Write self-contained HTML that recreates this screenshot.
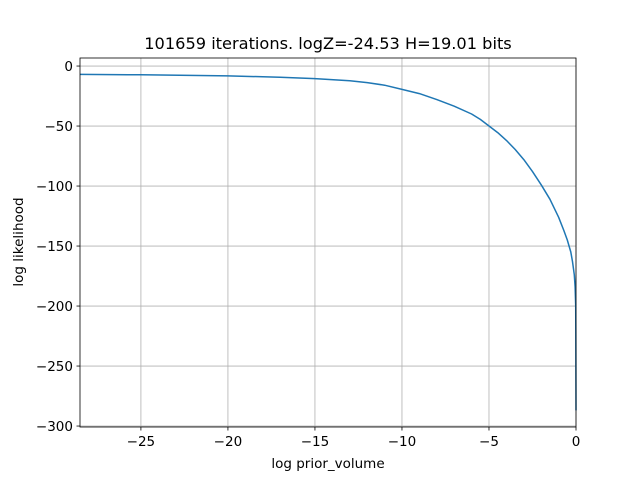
<!DOCTYPE html>
<html><head><meta charset="utf-8"><style>
body{margin:0;background:#fff;}
svg text{font-family:"DejaVu Sans","Liberation Sans",sans-serif;fill:#000;}
</style></head><body>
<svg id="chart" width="640" height="480" xmlns="http://www.w3.org/2000/svg">
<rect width="640" height="480" fill="#fff"/>
<g id="grid"></g>
<g id="ticks"></g>
<path id="curve" fill="none" stroke="#1f77b4" stroke-width="1.5" stroke-linejoin="round"/>
<rect x="80" y="58" width="496" height="369" fill="none" stroke="#000" stroke-width="0.8"/>
<text x="328" y="49" font-size="16.2" text-anchor="middle">101659 iterations. logZ=-24.53 H=19.01 bits</text>
<text x="328" y="468" font-size="13.5" text-anchor="middle">log prior_volume</text>
<text transform="translate(23,242) rotate(-90)" font-size="13.5" text-anchor="middle">log likelihood</text>
</svg>
<script>
const xs=[-28.5,-25,-20,-17,-15,-13,-12,-11,-10,-9,-8,-7,-6,-5.5,-5,-4.5,-4,-3.5,-3,-2.5,-2,-1.5,-1,-0.7,-0.5,-0.3,-0.2,-0.1,-0.05,-0.02,-0.01,0];
const ys=[-7,-7.3,-8.2,-9.3,-10.5,-12.3,-13.8,-16,-19.5,-23,-28,-33.5,-40,-44.5,-50,-55.5,-62,-69.5,-78,-88,-99,-111,-126,-137,-145,-155,-163,-174,-184,-200,-220,-287];
const xTicks=[-25,-20,-15,-10,-5,0];
const yTicks=[0,-50,-100,-150,-200,-250,-300];
const X0=80,X1=576,Y0=58,Y1=427,xmin=-28.5,xmax=0,ymin=-300.8,ymax=6.7;
function sx(v){return X0+(v-xmin)/(xmax-xmin)*(X1-X0);}
function sy(v){return Y1-(v-ymin)/(ymax-ymin)*(Y1-Y0);}
const NS="http://www.w3.org/2000/svg";
const g=document.getElementById('grid'),t=document.getElementById('ticks');
function mk(tag,attrs,parent){const e=document.createElementNS(NS,tag);for(const k in attrs)e.setAttribute(k,attrs[k]);parent.appendChild(e);return e;}
xTicks.forEach(v=>{const x=sx(v);
 const l=mk('line',{x1:x,x2:x,y1:Y0,y2:Y1,stroke:'#b0b0b0','stroke-width':0.8},g);
 
 
 mk('line',{x1:x,x2:x,y1:Y1,y2:Y1+3.5,stroke:'#000','stroke-width':0.8},t);
 const tx=mk('text',{x:x,y:Y1+19,'font-size':13.5,'text-anchor':'middle'},t);
 tx.textContent=v<0?'\u2212'+(-v):String(v);
 
 
});
yTicks.forEach(v=>{const y=sy(v);
 const l=mk('line',{x1:X0,x2:X1,y1:y,y2:y,stroke:'#b0b0b0','stroke-width':0.8},g);
 
 
 mk('line',{x1:X0-3.5,x2:X0,y1:y,y2:y,stroke:'#000','stroke-width':0.8},t);
 const tx=mk('text',{x:X0-7,y:y+5,'font-size':13.5,'text-anchor':'end'},t);
 tx.textContent=v<0?'\u2212'+(-v):String(v);
 
 
});
document.getElementById('curve').setAttribute('d',xs.map((v,i)=>(i?'L':'M')+sx(v).toFixed(1)+','+sy(ys[i]).toFixed(1)).join(''));
</script>
</body></html>
